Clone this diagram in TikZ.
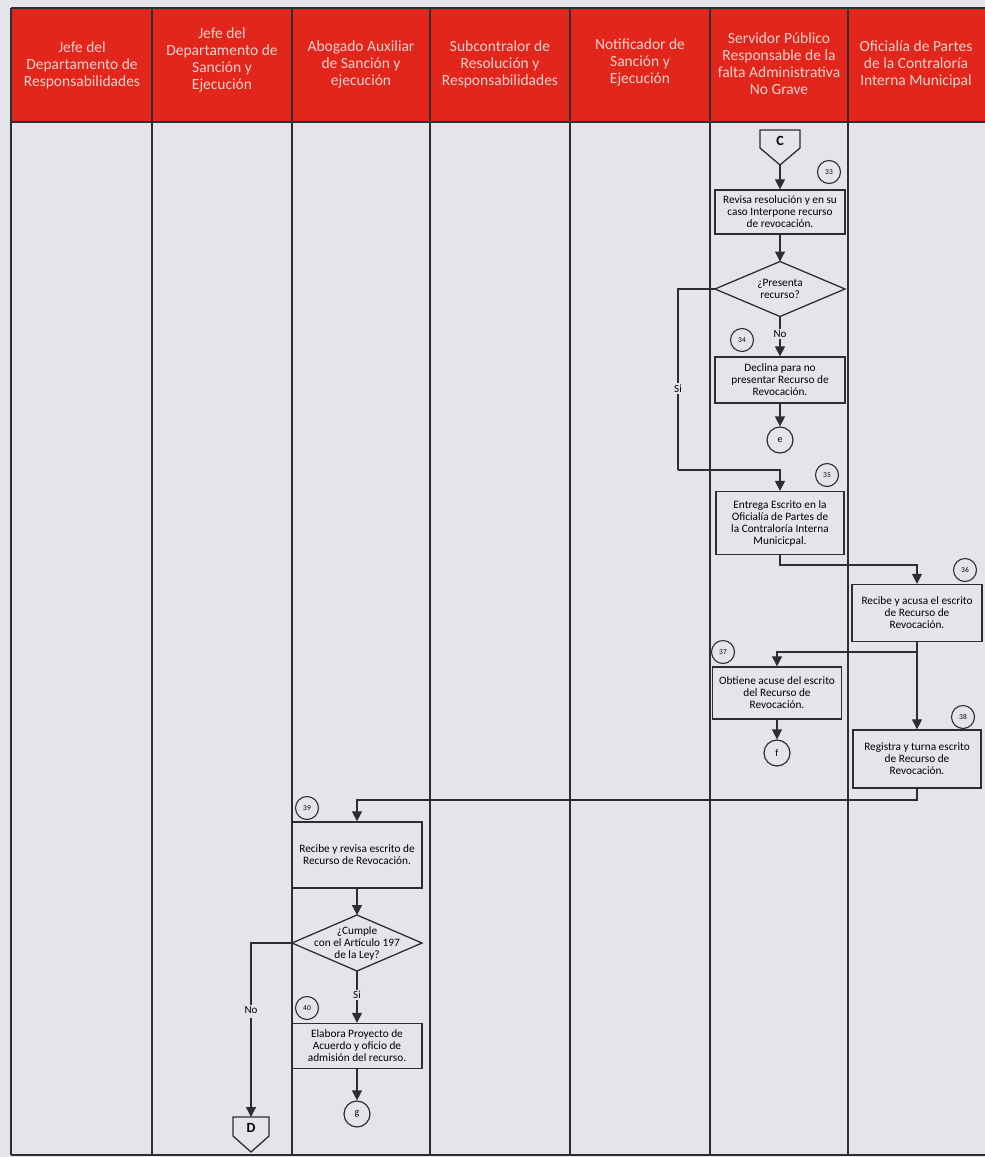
\documentclass[tikz,border=0pt]{standalone}
\usepackage{fontspec}
\setmainfont{Carlito}
\usetikzlibrary{arrows.meta,calc}
\definecolor{paper}{HTML}{E3E5EA}
\definecolor{hdr}{HTML}{E2261C}
\definecolor{hdrtext}{HTML}{F7D2CC}
\definecolor{ink}{HTML}{2E2E30}

\begin{document}
\begin{tikzpicture}[x=1pt,y=-1pt,
  lane/.style={draw=ink,line width=1.6pt},
  hdrlabel/.style={align=center,text=hdrtext,font=\fontsize{15.5}{17}\selectfont},
  task/.style={draw=ink,line width=1.3pt,fill=paper,align=center,inner sep=1pt,font=\fontsize{11.3}{12}\selectfont},
  declabel/.style={align=center,inner sep=0pt,font=\fontsize{11.3}{12}\selectfont},
  shapeline/.style={draw=ink,line width=1.3pt},
  connector/.style={circle,draw=ink,line width=1.2pt,minimum size=26pt,inner sep=0pt,font=\fontsize{10}{11}\selectfont},
  pagelabel/.style={inner sep=0pt,font=\fontsize{14}{15}\selectfont\bfseries},
  stepno/.style={circle,draw=ink,line width=1.1pt,minimum size=23pt,inner sep=0pt,font=\fontsize{7.5}{8}\selectfont},
  flow/.style={draw=ink,line width=1.2pt},
  arr/.style={flow,-{Triangle[length=10pt,width=10pt]}},
  lbl/.style={fill=paper,inner sep=1.5pt,font=\fontsize{11}{12}\selectfont}
]
\useasboundingbox (0,0) rectangle (985,1157);
\clip (0,0) rectangle (985,1157);
\fill[paper] (0,0) rectangle (985,1157);

% header band and swimlane grid
\fill[hdr] (11,8) rectangle (990,122);
\foreach \xx in {11,152,292,430,570,710,848}
  \draw[lane] (\xx,8) -- (\xx,1155);
\draw[lane] (11,8) -- (990,8);
\draw[lane] (11,122) -- (990,122);
\draw[lane] (11,1155) -- (990,1155);

% lane titles
\node[hdrlabel] (h1) at (82,65) {Jefe del\\Departamento de\\Responsabilidades};
\node[hdrlabel] (h2) at (222,60) {Jefe del\\Departamento de\\Sanción y\\Ejecución};
\node[hdrlabel] (h3) at (361,64) {Abogado Auxiliar\\de Sanción y\\ejecución};
\node[hdrlabel] (h4) at (500,64) {Subcontralor de\\Resolución y\\Responsabilidades};
\node[hdrlabel] (h5) at (640,62) {Notificador de\\Sanción y\\Ejecución};
\node[hdrlabel] (h6) at (779,64) {Servidor Público\\Responsable de la\\falta Administrativa\\No Grave};
\node[hdrlabel] (h7) at (916,64) {Oficialía de Partes\\de la Contraloría\\Interna Municipal};

% off-page connector C
\node[pagelabel] (C) at (780,141) {C};
\draw[shapeline] ($(C)+(-20,-11)$) -- ($(C)+(20,-11)$) -- ($(C)+(20,7)$)
  -- ($(C)+(0,24)$) coordinate (Ctip) -- ($(C)+(-20,7)$) -- cycle;

% lane: servidor publico
\node[task,minimum width=130pt,minimum height=44pt] (b33) at (780,212)
  {Revisa resolución y en su\\caso Interpone recurso\\de revocación.};
\node[declabel] (d1) at (780,289) {¿Presenta\\recurso?};
\draw[shapeline] ($(d1)+(0,-27.5)$) coordinate (d1n) -- ($(d1)+(65,0)$) coordinate (d1e)
  -- ($(d1)+(0,27.5)$) coordinate (d1s) -- ($(d1)+(-65,0)$) coordinate (d1w) -- cycle;
\node[task,minimum width=130pt,minimum height=46pt] (b34) at (780,380)
  {Declina para no\\presentar Recurso de\\Revocación.};
\node[connector] (e) at (780,440) {e};
\node[task,minimum width=128pt,minimum height=63pt] (b35) at (780,523)
  {Entrega Escrito en la\\Oficialía de Partes de\\la Contraloría Interna\\Municicpal.};
\node[task,minimum width=129pt,minimum height=52pt] (b37) at (777,693)
  {Obtiene acuse del escrito\\del Recurso de\\Revocación.};
\node[connector] (f) at (777,753) {f};

% lane: oficialia de partes
\node[task,minimum width=130pt,minimum height=57pt] (b36) at (917,613)
  {Recibe y acusa el escrito\\de Recurso de\\Revocación.};
\node[task,minimum width=128pt,minimum height=58pt] (b38) at (917,759)
  {Registra y turna escrito\\de Recurso de\\Revocación.};

% lane: abogado auxiliar
\node[task,minimum width=130pt,minimum height=66pt] (b39) at (357,855)
  {Recibe y revisa escrito de\\Recurso de Revocación.};
\node[declabel] (d2) at (357,943) {¿Cumple\\con el Artículo 197\\de la Ley?};
\draw[shapeline] ($(d2)+(0,-28)$) coordinate (d2n) -- ($(d2)+(65,0)$) coordinate (d2e)
  -- ($(d2)+(0,28)$) coordinate (d2s) -- ($(d2)+(-65,0)$) coordinate (d2w) -- cycle;
\node[task,minimum width=130pt,minimum height=45pt] (b40) at (357,1046)
  {Elabora Proyecto de\\Acuerdo y oficio de\\admisión del recurso.};
\node[connector] (g) at (357,1114) {g};

% off-page connector D
\node[pagelabel] (D) at (251,1128) {D};
\draw[shapeline] ($(D)+(-18,-11)$) -- ($(D)+(18,-11)$) -- ($(D)+(18,8)$)
  -- ($(D)+(0,24)$) -- ($(D)+(-18,8)$) -- cycle;
\coordinate (Din) at ($(D)+(0,-11)$);

% step numbers
\node[stepno] (n33) at (829,172) {33};
\node[stepno] (n34) at (742,340) {34};
\node[stepno] (n35) at (827,475) {35};
\node[stepno] (n36) at (965,570) {36};
\node[stepno] (n37) at (723,652) {37};
\node[stepno] (n38) at (963,717) {38};
\node[stepno] (n39) at (307,808) {39};
\node[stepno] (n40) at (307,1008) {40};

% flow lines
\draw[arr] (Ctip) -- (b33.north);
\draw[arr] (b33.south) -- (d1n);
\draw[flow] (d1s) -- (d1s |- 0,346) node[lbl,pos=0.6] {No};
\draw[arr] (d1s |- 0,346) -- (b34.north);
\draw[arr] (b34.south) -- (e.north);
\coordinate (siA) at (678,289);
\coordinate (siB) at (678,470);
\draw[flow] (d1w) -- (siA) -- (siB) node[lbl,pos=0.55] {Si};
\draw[arr] (siB) -- (b35.north |- siB) -- (b35.north);
\coordinate (k35) at (780,565);
\draw[arr] (b35.south) -- (k35) -- (b36.north |- k35) -- (b36.north);
\coordinate (k36) at (917,652);
\draw[arr] (b36.south) -- (b38.north);
\draw[arr] (k36) -- (b37.north |- k36) -- (b37.north);
\draw[arr] (b37.south) -- (f.north);
\coordinate (k38) at (917,800);
\draw[arr] (b38.south) -- (k38) -- (b39.north |- k38) -- (b39.north);
\draw[arr] (b39.south) -- (d2n);
\draw[flow] (d2s) -- (d2s |- 0,1011) node[lbl,pos=0.6] {Si};
\draw[arr] (d2s |- 0,1011) -- (b40.north);
\draw[arr] (b40.south) -- (g.north);
\coordinate (noA) at (251,943);
\draw[flow] (d2w) -- (noA) -- (noA |- 0,1010) node[lbl] {No};
\draw[arr] (noA |- 0,1018) -- (Din);
\end{tikzpicture}
\end{document}
